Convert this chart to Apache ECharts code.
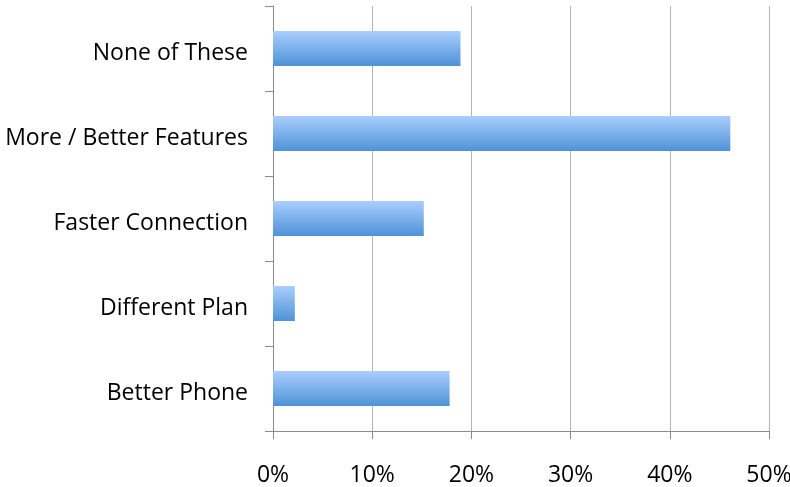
<!DOCTYPE html>
<html>
<head>
<meta charset="utf-8">
<script src="https://cdn.jsdelivr.net/npm/echarts@6/dist/echarts.min.js"></script>
<style>
  html, body { margin: 0; padding: 0; background: #fff; }
  #chart { width: 790px; height: 487px; }
</style>
</head>
<body>
<div id="chart"></div>
<script>
// Answers, listed bottom to top along the category axis
const categories = ['Better Phone', 'Different Plan', 'Faster Connection', 'More / Better Features', 'None of These'];
// Share of respondents, in percent
const shares = [17.8, 2.2, 15.2, 46.1, 18.9];
// Value axis range and step, in percent
const axisMin = 0;
const axisMax = 50;
const axisStep = 10;

const chart = echarts.init(document.getElementById('chart'), null, { renderer: 'canvas' });

const fontFamily = '"Open Sans", "Noto Sans", sans-serif';

chart.setOption({
  animation: false,
  backgroundColor: '#ffffff',
  grid: { left: 273, right: 21, top: 6, bottom: 56, containLabel: false, outerBoundsMode: 'none' },
  xAxis: {
    type: 'value',
    min: axisMin,
    max: axisMax,
    interval: axisStep,
    axisLine: { show: true, lineStyle: { color: '#8c8c8c', width: 1 } },
    axisTick: { show: true, length: 8, inside: false, lineStyle: { color: '#8c8c8c' } },
    splitLine: { show: true, lineStyle: { color: '#b4b4b4', width: 1 } },
    axisLabel: {
      margin: 33,
      color: '#000',
      fontSize: 23,
      fontFamily: fontFamily,
      hideOverlap: false,
      formatter: v => v + '%'
    }
  },
  yAxis: {
    type: 'category',
    data: categories,
    boundaryGap: true,
    axisLine: { show: true, lineStyle: { color: '#8c8c8c', width: 1 } },
    axisTick: { show: true, length: 8, inside: false, alignWithLabel: false, lineStyle: { color: '#8c8c8c' } },
    splitLine: { show: false },
    axisLabel: {
      margin: 25,
      color: '#000',
      fontSize: 23,
      fontFamily: fontFamily,
      formatter: v => '{t|' + v + '}',
      rich: {
        t: { fontSize: 23, fontFamily: fontFamily, color: '#000', padding: [9, 0, 0, 0] }
      }
    }
  },
  series: [{
    type: 'bar',
    data: shares,
    barWidth: 35,
    itemStyle: {
      color: new echarts.graphic.LinearGradient(0, 0, 0, 1, [
        { offset: 0, color: '#aacefd' },
        { offset: 1, color: '#4e92d8' }
      ])
    }
  }]
});
</script>
</body>
</html>
